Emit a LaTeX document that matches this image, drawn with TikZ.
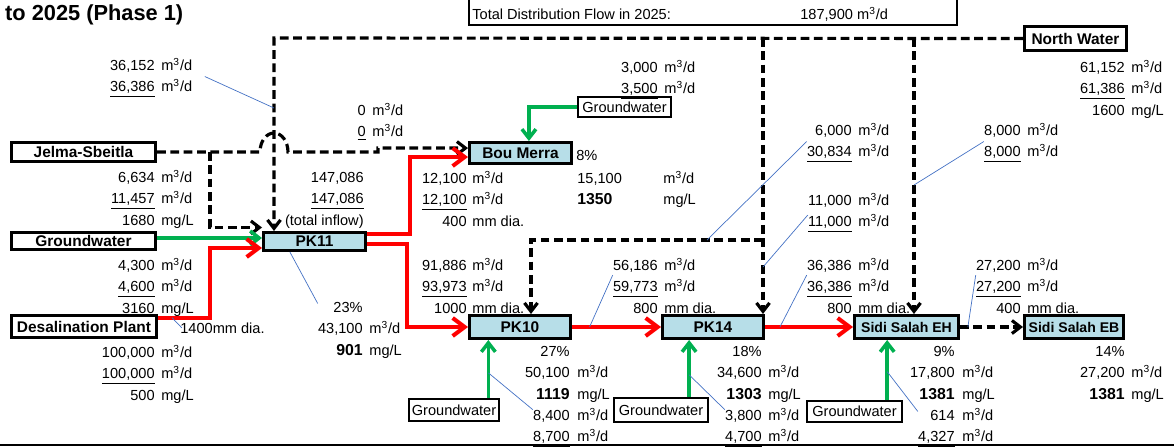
\documentclass[tikz,border=0pt]{standalone}
\usepackage{fontspec}
\setmainfont{Liberation Sans}
\usepackage{tikz}
\usetikzlibrary{arrows.meta}
\definecolor{tankblue}{RGB}{183,222,232}
\definecolor{gwgreen}{RGB}{0,176,80}
\definecolor{leadblue}{RGB}{68,114,196}
\newcommand{\cub}{m\textsuperscript{3}/d}
\newcommand{\tds}[1]{{\fontsize{9}{12.4}\selectfont\bfseries #1}}
\newcommand{\rcol}[1]{\begin{tabular}[t]{@{}r@{}}#1\end{tabular}}
\newcommand{\lcol}[1]{\begin{tabular}[t]{@{}l@{}}#1\end{tabular}}

\begin{document}
\begin{tikzpicture}[x=0.02cm, y=-0.02cm,
    font=\fontsize{8.3}{12.4}\selectfont,
    src/.style={draw, line width=1.7pt, fill=white, inner sep=0pt,
      font=\fontsize{8.8}{10}\selectfont\bfseries},
    tank/.style={src, fill=tankblue},
    gwbox/.style={draw, line width=1pt, fill=white, inner sep=0pt},
    num/.style={anchor=base east, inner sep=0pt},
    unit/.style={anchor=base west, inner sep=0pt},
    pipe/.style={red, line width=2.3pt, -{Straight Barb[length=2.4mm, width=3.6mm]}},
    gw/.style={gwgreen, line width=2pt, -{Straight Barb[length=1.8mm, width=2.8mm]}},
    dsh/.style={line width=1.8pt, dash pattern=on 5pt off 2.6pt,
      -{Straight Barb[length=1.7mm, width=2.6mm]}},
    lead/.style={leadblue, line width=0.4pt}]
  \useasboundingbox (0,0) rectangle (1174,447);
  \clip (0,0) rectangle (1174,447);

  \node[anchor=west, font=\fontsize{12.4}{14}\selectfont\bfseries] (title) at (-1,15) {to 2025 (Phase 1)};
  \node[draw, line width=1pt, minimum width=9.76cm, minimum height=1cm] (total) at (713,0) {};
  \node[unit] (totaltxt) at (472,19) {Total Distribution Flow in 2025:};
  \node[unit] (totalval) at (800,19) {187,900 \cub};

  \node[src, minimum width=2.88cm, minimum height=0.38cm] (js) at (83.5,152) {Jelma-Sbeitla};
  \node[src, minimum width=2.88cm, minimum height=0.34cm] (gwl) at (83.5,241) {Groundwater};
  \node[src, minimum width=2.9cm, minimum height=0.44cm] (desal) at (84,326.5) {Desalination Plant};
  \node[src, minimum width=2.04cm, minimum height=0.48cm] (nw) at (1075.5,38.5) {North Water};

  \node[tank, minimum width=2.04cm, minimum height=0.36cm] (pk11) at (314.5,241.5) {PK11};
  \node[tank, minimum width=2.04cm, minimum height=0.42cm] (bm) at (520.5,153) {Bou Merra};
  \node[tank, minimum width=2.02cm, minimum height=0.46cm] (pk10) at (520,327) {PK10};
  \node[tank, minimum width=2.02cm, minimum height=0.46cm] (pk14) at (713,327) {PK14};
  \node[tank, minimum width=2.08cm, minimum height=0.46cm,
    font=\fontsize{8}{9}\selectfont\bfseries] (sseh) at (906.5,327) {Sidi Salah EH};
  \node[tank, minimum width=1.98cm, minimum height=0.46cm,
    font=\fontsize{8}{9}\selectfont\bfseries] (sseb) at (1074,327) {Sidi Salah EB};

  \node[gwbox, minimum width=1.86cm, minimum height=0.40cm] (gwbm) at (624.5,107) {Groundwater};
  \node[gwbox, minimum width=1.80cm, minimum height=0.44cm] (gw10) at (454,410) {Groundwater};
  \node[gwbox, minimum width=1.88cm, minimum height=0.48cm] (gw14) at (661,410) {Groundwater};
  \node[gwbox, minimum width=1.90cm, minimum height=0.42cm] (gwss) at (854.5,411.5) {Groundwater};

  \coordinate (nwc) at (274,38);
  \coordinate (j14) at (763,38);
  \coordinate (j15) at (914,38);
  \coordinate (j10) at (531,240);
  \coordinate (jsc) at (210,152);
  \coordinate (pk11g) at ([yshift=2pt]pk11.west);
  \coordinate (g10) at ([xshift=-18pt]pk10.south);
  \coordinate (g14) at ([xshift=-13.6pt]pk14.south);
  \coordinate (gss) at ([xshift=-11pt]sseh.south);
  \coordinate (lnA) at (274,108);
  \coordinate (lnN) at (707,240);
  \coordinate (lnO) at (763,267);
  \coordinate (lnP) at (914,185);

  \draw[dsh] (nw.west) -- (nwc) -- (nwc |- pk11.north);
  \draw[dsh] (j14) -- (j14 |- pk14.north);
  \draw[dsh] (j15) -- (j15 |- sseh.north);
  \draw[dsh] (j14 |- j10) -- (j10) -- (j10 |- pk10.north);
  \draw[dsh] (js.east) -- (jsc) -- (260,152)
    arc[start angle=180, end angle=360, x radius=14, y radius=19]
    -- (378,152) -- (378,148) -- ([yshift=2.8pt]bm.west);
  \draw[dsh] (jsc) |- ([yshift=2pt]pk11.north west);

  \draw[gw] (gwl.east |- pk11g) -- (pk11g);
  \draw[pipe] ([yshift=5pt]desal.east) -| (210,280) |- ([yshift=-3.7pt]pk11.west);
  \draw[pipe] ([yshift=4.5pt]pk11.east) -| (410,200) |- ([yshift=-2.3pt]bm.west);
  \draw[pipe] ([yshift=-1.5pt]pk11.east) -| (407,290) |- (pk10.west);
  \draw[pipe] (pk10.east) -- (pk14.west);
  \draw[pipe] (pk14.east) -- (sseh.west);
  \draw[dsh] (sseh.east) -- (sseb.west);

  \draw[gw] (gwbm.west) -| ([xshift=4.8pt]bm.north);
  \draw[gw] (gw10.north -| g10) -- (g10);
  \draw[gw] (gw14.north -| g14) -- (g14);
  \draw[gw] (gwss.north -| gss) -- (gss);

  \node[num] (nwaq) at (155,70) {\rcol{36,152\\\underline{36,386}}};
  \node[unit] (nwau) at (161,70) {\lcol{\cub\\\cub}};
  \node[num] (zeroq) at (366,115) {\rcol{0\\\underline{0}}};
  \node[unit] (zerou) at (372,115) {\lcol{\cub\\\cub}};
  \node[num] (jsfq) at (155,182) {\rcol{6,634\\\underline{11,457}\\1680}};
  \node[unit] (jsfu) at (161,182) {\lcol{\cub\\\cub\\mg/L}};
  \node[num] (infq) at (364,182) {\rcol{147,086\\\underline{147,086}\\(total inflow)}};
  \node[num] (gwfq) at (155,270) {\rcol{4,300\\\underline{4,600}\\3160}};
  \node[unit] (gwfu) at (161,270) {\lcol{\cub\\\cub\\mg/L}};
  \node[num] (dsfq) at (155,357) {\rcol{100,000\\\underline{100,000}\\500}};
  \node[unit] (dsfu) at (161,357) {\lcol{\cub\\\cub\\mg/L}};
  \node[unit] (dia) at (180,333) {1400mm dia.};
  \node[num] (outq) at (363,312) {\rcol{23\%\\43,100\\\tds{901}\hspace{5pt}}};
  \node[unit] (outu) at (369,312) {\lcol{\\\cub\\mg/L}};

  \node[num] (bmpq) at (467,183) {\rcol{12,100\\\underline{12,100}\\400}};
  \node[unit] (bmpu) at (472,183) {\lcol{\cub\\\cub\\mm dia.}};
  \node[unit] (bmdq) at (577,183) {\lcol{15,100\\\tds{1350}}};
  \node[unit] (bmdu) at (663,183) {\lcol{\cub\\mg/L}};
  \node[unit] (bmpct) at (576,160) {8\%};
  \node[num] (bmgq) at (658,72) {\rcol{3,000\\\underline{3,500}}};
  \node[unit] (bmgu) at (664,72) {\lcol{\cub\\\cub}};
  \node[num] (nwfq) at (1125,72) {\rcol{61,152\\\underline{61,386}\\1600}};
  \node[unit] (nwfu) at (1131,72) {\lcol{\cub\\\cub\\mg/L}};

  \node[num] (p10pq) at (467,270) {\rcol{91,886\\\underline{93,973}\\1000}};
  \node[unit] (p10pu) at (472,270) {\lcol{\cub\\\cub\\mm dia.}};
  \node[num] (p14pq) at (658,270) {\rcol{56,186\\\underline{59,773}\\800}};
  \node[unit] (p14pu) at (664,270) {\lcol{\cub\\\cub\\mm dia.}};
  \node[num] (nwnq) at (852,135) {\rcol{6,000\\\underline{30,834}}};
  \node[unit] (nwnu) at (858,135) {\lcol{\cub\\\cub}};
  \node[num] (nwoq) at (852,205) {\rcol{11,000\\\underline{11,000}}};
  \node[unit] (nwou) at (858,205) {\lcol{\cub\\\cub}};
  \node[num] (nwpq) at (1021,135) {\rcol{8,000\\\underline{8,000}}};
  \node[unit] (nwpu) at (1027,135) {\lcol{\cub\\\cub}};
  \node[num] (sspq) at (852,270) {\rcol{36,386\\\underline{36,386}\\800}};
  \node[unit] (sspu) at (858,270) {\lcol{\cub\\\cub\\mm dia.}};
  \node[num] (sbpq) at (1021,270) {\rcol{27,200\\\underline{27,200}\\400}};
  \node[unit] (sbpu) at (1027,270) {\lcol{\cub\\\cub\\mm dia.}};

  \node[num] (p10dq) at (570,356) {\rcol{27\%\\50,100\\\tds{1119}\hspace{4.5pt}}};
  \node[unit] (p10du) at (577,356) {\lcol{\\\cub\\mg/L}};
  \node[num] (p10gq) at (570,420) {\rcol{8,400\\\underline{8,700}}};
  \node[unit] (p10gu) at (577,420) {\lcol{\cub\\\cub}};
  \node[num] (p14dq) at (762,356) {\rcol{18\%\\34,600\\\tds{1303}\hspace{5.5pt}}};
  \node[unit] (p14du) at (768,356) {\lcol{\\\cub\\mg/L}};
  \node[num] (p14gq) at (762,420) {\rcol{3,800\\\underline{4,700}}};
  \node[unit] (p14gu) at (768,420) {\lcol{\cub\\\cub}};
  \node[num] (ssdq) at (955,356) {\rcol{9\%\\17,800\\\tds{1381}\hspace{5.5pt}}};
  \node[unit] (ssdu) at (962,356) {\lcol{\\\cub\\mg/L}};
  \node[num] (ssgq) at (955,420) {\rcol{614\\\underline{4,327}}};
  \node[unit] (ssgu) at (962,420) {\lcol{\cub\\\cub}};
  \node[num] (sbdq) at (1125,356) {\rcol{14\%\\27,200\\\tds{1381}\hspace{5.5pt}}};
  \node[unit] (sbdu) at (1131,356) {\lcol{\\\cub\\mg/L}};

  \draw[lead] ([xshift=7pt]nwau.east) -- (lnA);
  \draw[lead] ([xshift=8pt,yshift=5pt]desal.east) -- ([xshift=1pt]dia.west);
  \draw[lead] ([xshift=-14pt]pk11.south) -- ([yshift=-4pt]outq.north west);
  \draw[lead] ([xshift=10pt]pk10.east) -- ([yshift=7pt]p14pq.west);
  \draw[lead] (lnN) -- (nwnq.west);
  \draw[lead] (lnO) -- ([yshift=-2pt]nwoq.west);
  \draw[lead] (lnP) -- (nwpq.west);
  \draw[lead] ([xshift=8.5pt]pk14.east) -- ([yshift=7pt]sspq.west);
  \draw[lead] ([xshift=4.5pt]sseh.east) -- ([yshift=7pt]sbpq.west);
  \draw[lead] ([yshift=-18.7pt]g10) -- ([yshift=-3pt]p10gq.north west);
  \draw[lead] ([yshift=-19.8pt]g14) -- ([yshift=-3pt]p14gq.north west);
  \draw[lead] ([yshift=-18pt]gss) -- ([yshift=-4pt]ssgq.north west);

  \draw[line width=0.8pt] (0,445) -- (1174,445);
\end{tikzpicture}
\end{document}
